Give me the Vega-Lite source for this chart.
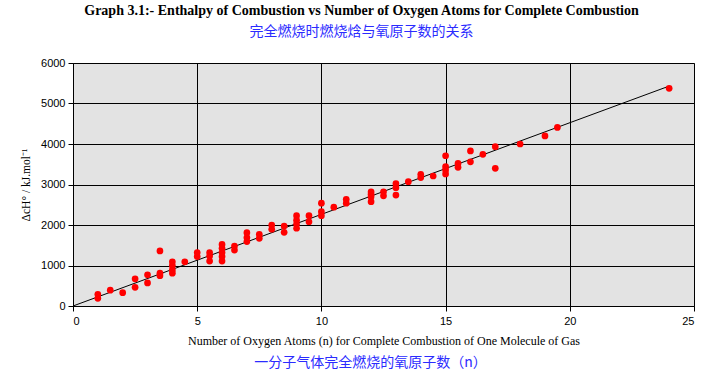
{
  "$schema": "https://vega.github.io/schema/vega-lite/v6.json",
  "width": 621,
  "height": 243,
  "autosize": {"type": "none"},
  "padding": {"left": 73, "top": 63, "right": 30, "bottom": 67},
  "background": "white",
  "config": {
    "view": {"fill": "#e3e3e3", "stroke": "#8c8c8c", "strokeWidth": 1},
    "axis": {
      "gridColor": "black", "gridOpacity": 1, "gridWidth": 1,
      "domainColor": "black", "tickColor": "black", "tickSize": 5,
      "labelFont": "Liberation Sans", "labelFontSize": 11, "labelColor": "black",
      "titleFont": "Liberation Serif", "titleFontWeight": "normal", "titleColor": "black"
    }
  },
  "title": {
    "text": "Graph 3.1:- Enthalpy of Combustion vs Number of Oxygen Atoms for Complete Combustion",
    "subtitle": "完全燃烧时燃烧焓与氧原子数的关系",
    "font": "Liberation Serif", "fontSize": 14, "fontWeight": "bold", "color": "black",
    "subtitleFont": "Noto Sans CJK SC", "subtitleFontSize": 14, "subtitleColor": "#2b2bff",
    "subtitlePadding": 7,
    "anchor": "middle", "offset": 18, "dx": -22
  },
  "datasets": {
    "points": [
      {"n": 1, "dH": 290}, {"n": 1, "dH": 190},
      {"n": 1.5, "dH": 390},
      {"n": 2, "dH": 330},
      {"n": 2.5, "dH": 670}, {"n": 2.5, "dH": 460},
      {"n": 3, "dH": 770}, {"n": 3, "dH": 570},
      {"n": 3.5, "dH": 1360}, {"n": 3.5, "dH": 810}, {"n": 3.5, "dH": 750},
      {"n": 4, "dH": 1090}, {"n": 4, "dH": 1000}, {"n": 4, "dH": 890}, {"n": 4, "dH": 810},
      {"n": 4.5, "dH": 1090},
      {"n": 5, "dH": 1320}, {"n": 5, "dH": 1220},
      {"n": 5.5, "dH": 1320}, {"n": 5.5, "dH": 1235}, {"n": 5.5, "dH": 1110},
      {"n": 6, "dH": 1520}, {"n": 6, "dH": 1425}, {"n": 6, "dH": 1320}, {"n": 6, "dH": 1220}, {"n": 6, "dH": 1110},
      {"n": 6.5, "dH": 1480}, {"n": 6.5, "dH": 1380},
      {"n": 7, "dH": 1810}, {"n": 7, "dH": 1690}, {"n": 7, "dH": 1590},
      {"n": 7.5, "dH": 1770}, {"n": 7.5, "dH": 1670},
      {"n": 8, "dH": 2000}, {"n": 8, "dH": 1895},
      {"n": 8.5, "dH": 1975}, {"n": 8.5, "dH": 1820},
      {"n": 9, "dH": 2230}, {"n": 9, "dH": 2120}, {"n": 9, "dH": 2025}, {"n": 9, "dH": 1920},
      {"n": 9.5, "dH": 2230}, {"n": 9.5, "dH": 2080},
      {"n": 10, "dH": 2540}, {"n": 10, "dH": 2330}, {"n": 10, "dH": 2230},
      {"n": 10.5, "dH": 2440},
      {"n": 11, "dH": 2635}, {"n": 11, "dH": 2540},
      {"n": 12, "dH": 2820}, {"n": 12, "dH": 2760}, {"n": 12, "dH": 2700}, {"n": 12, "dH": 2575},
      {"n": 12.5, "dH": 2820}, {"n": 12.5, "dH": 2720},
      {"n": 13, "dH": 3020}, {"n": 13, "dH": 2920}, {"n": 13, "dH": 2740},
      {"n": 13.5, "dH": 3070},
      {"n": 14, "dH": 3250}, {"n": 14, "dH": 3170},
      {"n": 14.5, "dH": 3210},
      {"n": 15, "dH": 3710}, {"n": 15, "dH": 3440}, {"n": 15, "dH": 3360}, {"n": 15, "dH": 3260},
      {"n": 15.5, "dH": 3520}, {"n": 15.5, "dH": 3425},
      {"n": 16, "dH": 3830}, {"n": 16, "dH": 3560},
      {"n": 16.5, "dH": 3745},
      {"n": 17, "dH": 3935}, {"n": 17, "dH": 3400},
      {"n": 18, "dH": 4000},
      {"n": 19, "dH": 4200},
      {"n": 19.5, "dH": 4410},
      {"n": 24, "dH": 5375}
    ],
    "trend": [
      {"n": 0, "dH": 0},
      {"n": 24, "dH": 5430}
    ]
  },
  "layer": [
    {
      "data": {"name": "trend"},
      "mark": {"type": "line", "color": "black", "strokeWidth": 1},
      "encoding": {
        "x": {
          "field": "n", "type": "quantitative",
          "scale": {"domain": [0, 25], "nice": false, "zero": true},
          "axis": {
            "orient": "bottom",
            "values": [0, 5, 10, 15, 20, 25], "format": "d",
            "title": "Number of Oxygen Atoms (n) for Complete Combustion of One Molecule of Gas",
            "titleFontSize": 12, "titlePadding": 9, "labelPadding": 4
          }
        },
        "y": {
          "field": "dH", "type": "quantitative",
          "scale": {"domain": [0, 6000], "nice": false},
          "axis": {
            "values": [0, 1000, 2000, 3000, 4000, 5000, 6000], "format": "d",
            "title": "ΔcH° / kJ.mol⁻¹",
            "titleFontSize": 11.5, "titlePadding": 9, "labelPadding": 3
          }
        }
      }
    },
    {
      "data": {"name": "points"},
      "mark": {"type": "circle", "color": "#ff0000", "opacity": 1, "size": 45},
      "encoding": {
        "x": {
          "field": "n", "type": "quantitative",
          "axis": {
            "orient": "bottom",
            "title": "一分子气体完全燃烧的氧原子数（n）",
            "titleFont": "Noto Sans CJK SC", "titleFontSize": 14, "titleColor": "#2b2bff",
            "labels": false, "ticks": false, "domain": false, "grid": false,
            "titlePadding": 49, "titleX": 297
          }
        },
        "y": {"field": "dH", "type": "quantitative"}
      }
    }
  ],
  "resolve": {"axis": {"x": "independent"}}
}
